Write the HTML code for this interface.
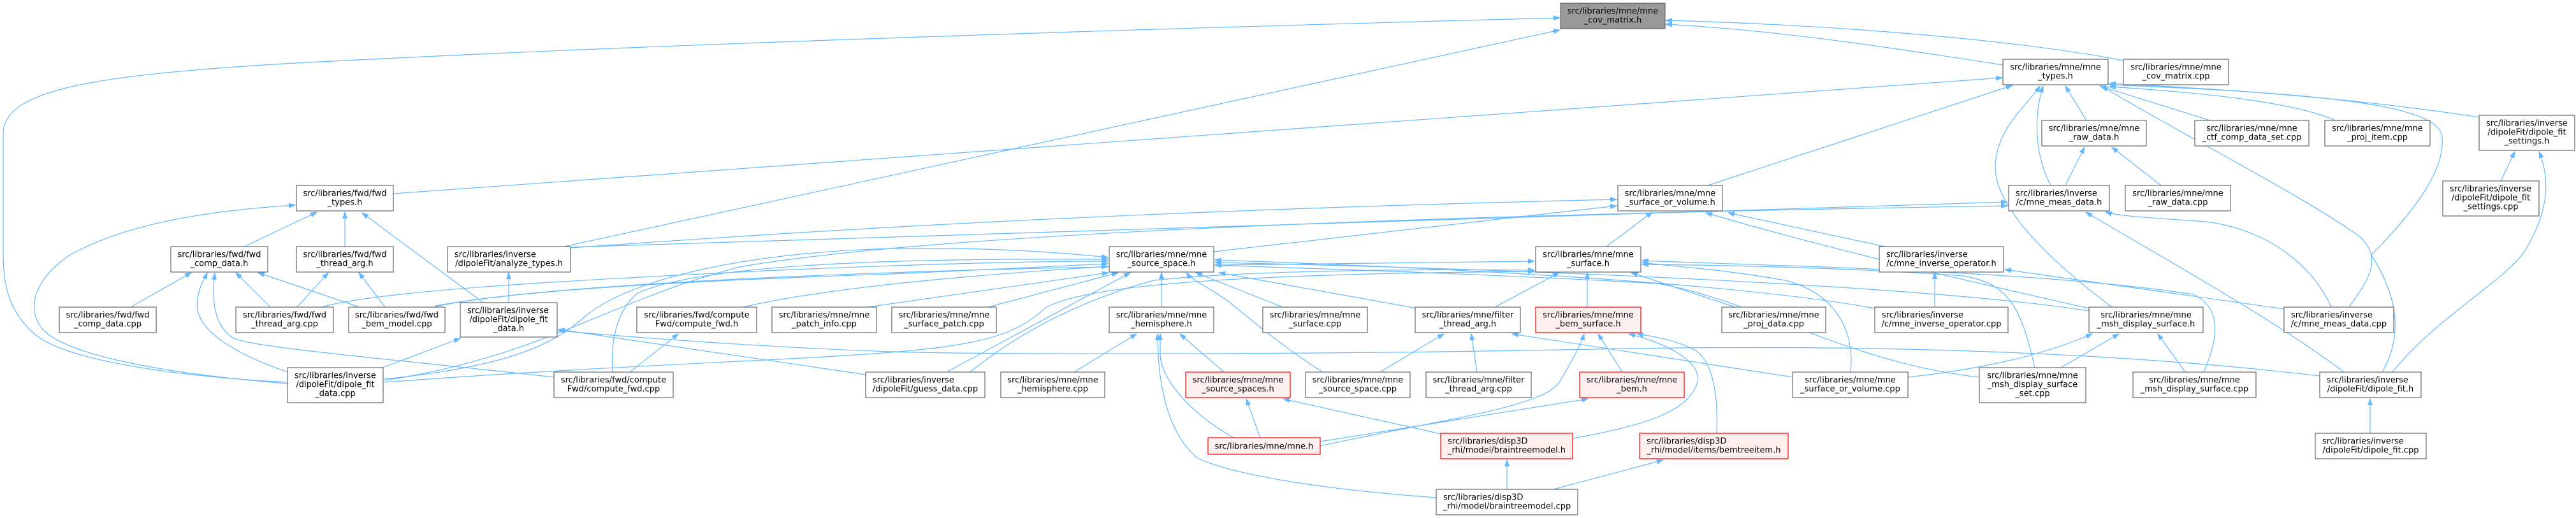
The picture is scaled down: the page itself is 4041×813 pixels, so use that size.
<!DOCTYPE html>
<html>
<head>
<meta charset="utf-8">
<style>
html,body{margin:0;padding:0;background:#fff;}
body{width:4041px;height:813px;overflow:hidden;}
svg{display:block;}
.e{fill:none;stroke:#63b8ff;stroke-width:1.2;marker-end:url(#a);}
.n{fill:#fff;stroke:#666;stroke-width:1.2;}
.r{fill:#fff0f0;stroke:#ff0000;stroke-width:1.2;}
.g{fill:#999;stroke:#666;stroke-width:1.2;}
text{font-family:"DejaVu Sans","Liberation Sans",sans-serif;font-size:13px;fill:#000;}
.c{text-anchor:middle;}
</style>
</head>
<body>
<svg width="4041" height="813" viewBox="0 0 4041 813" xmlns="http://www.w3.org/2000/svg">
<defs>
<marker id="a" markerWidth="11" markerHeight="8" refX="10" refY="4" orient="auto" markerUnits="userSpaceOnUse">
<path d="M0,0.5 L10,4 L0,7.5 z" fill="#63b8ff" stroke="#63b8ff" stroke-width="1"/>
</marker>
</defs>

<!-- edges -->
<path class="e" d="M3142,102 C3000,80 2800,48 2613,38"/>
<path class="e" d="M3331,95 C3150,60 2850,38 2613,32"/>
<path class="e" d="M451,600 C300,592 110,570 55,525 C15,490 5,450 5,400 L5,210 C5,140 150,118 446,100 C1000,70 1800,45 2447,28"/>
<path class="e" d="M885,387 L2447,47"/>
<path class="e" d="M617,304 L3141,122"/>
<path class="e" d="M2679,291 L3157,134"/>
<path class="e" d="M3313,482 C3230,420 3128,330 3130,260 C3132,200 3185,160 3200,135"/>
<path class="e" d="M3217,291 C3195,250 3188,190 3205,135"/>
<path class="e" d="M3273,189 L3240,135"/>
<path class="e" d="M3467,189 L3294,135"/>
<path class="e" d="M3685,482 C3715,440 3740,405 3700,370 C3600,300 3420,210 3297,135"/>
<path class="e" d="M3737,584 C3780,510 3745,440 3720,400 C3790,330 3840,260 3830,210 C3815,160 3600,145 3309,133"/>
<path class="e" d="M3889,184 C3700,155 3500,140 3309,131"/>
<path class="e" d="M3663,189 C3600,160 3450,145 3309,136"/>
<path class="e" d="M3240,291 L3270,231"/>
<path class="e" d="M3390,291 L3313,231"/>
<path class="e" d="M3923,284 L3945,238"/>
<path class="e" d="M3753,584 C3820,500 3930,440 3960,395 C4000,330 4000,280 3983,238"/>
<path class="e" d="M893,388 L3149,317"/>
<path class="e" d="M603,597 C850,560 960,470 1160,419 C1500,360 2400,335 3149,323"/>
<path class="e" d="M895,389 C1300,360 1800,330 2536,313"/>
<path class="e" d="M1904,395 L2536,323"/>
<path class="e" d="M2520,387 L2592,333"/>
<path class="e" d="M2957,387 L2711,334"/>
<path class="e" d="M3277,484 C3150,455 2900,400 2676,334"/>
<path class="e" d="M383,387 L497,333"/>
<path class="e" d="M541,387 L541,333"/>
<path class="e" d="M758,475 L568,334"/>
<path class="e" d="M451,602 C300,590 120,565 70,520 C40,490 50,440 110,400 C200,350 330,330 463,322"/>
<path class="e" d="M205,482 L300,428"/>
<path class="e" d="M424,482 L370,428"/>
<path class="e" d="M564,482 L405,428"/>
<path class="e" d="M455,585 C380,560 300,520 310,470 C312,450 320,440 325,428"/>
<path class="e" d="M869,592 C600,562 390,545 365,530 C335,510 332,470 337,429"/>
<path class="e" d="M466,482 L515,428"/>
<path class="e" d="M604,482 L563,428"/>
<path class="e" d="M798,475 L798,428"/>
<path class="e" d="M600,577 L722,531"/>
<path class="e" d="M1358,588 L876,517"/>
<path class="e" d="M3639,590 C3300,550 2900,540 2500,548 C2000,558 1500,556 1400,552 C1200,545 1000,530 876,519"/>
<path class="e" d="M988,584 L1064,524"/>
<path class="e" d="M504,482 C600,455 900,440 1200,425 C1500,412 1650,410 1738,410"/>
<path class="e" d="M679,482 C800,455 1100,440 1400,430 C1550,422 1650,418 1738,414"/>
<path class="e" d="M1166,482 C1300,450 1550,430 1738,418"/>
<path class="e" d="M603,595 C800,575 870,540 920,495 C1000,430 1200,395 1400,390 C1550,388 1650,395 1738,404"/>
<path class="e" d="M961,584 C958,540 965,490 1000,460 C1100,415 1400,405 1738,407"/>
<path class="e" d="M1361,482 L1739,428"/>
<path class="e" d="M1550,482 L1754,428"/>
<path class="e" d="M1485,584 L1773,428"/>
<path class="e" d="M1822,482 L1822,428"/>
<path class="e" d="M2223,484 L1912,428"/>
<path class="e" d="M2075,584 C2020,550 1960,500 1927,473 C1895,450 1870,440 1861,428"/>
<path class="e" d="M2012,482 L1876,428"/>
<path class="e" d="M2941,484 C2700,440 2200,418 1906,408"/>
<path class="e" d="M3277,488 C3000,445 2300,420 1906,412"/>
<path class="e" d="M3105,592 C2900,570 2750,470 2600,445 C2300,428 2000,420 1906,416"/>
<path class="e" d="M1522,584 C1600,520 1700,470 1810,440 C1950,425 2200,422 2407,424"/>
<path class="e" d="M603,600 C800,585 1000,575 1200,565 C1500,550 1580,540 1640,483 C1700,450 1900,430 2407,426"/>
<path class="e" d="M683,480 C900,440 1500,420 2000,415 C2200,412 2350,410 2407,410"/>
<path class="e" d="M2345,482 L2446,428"/>
<path class="e" d="M2490,482 L2490,428"/>
<path class="e" d="M2722,482 L2559,428"/>
<path class="e" d="M2903,584 C2910,520 2880,460 2800,440 C2700,422 2620,418 2576,412"/>
<path class="e" d="M3457,584 C3485,520 3480,480 3440,462 C3200,425 2800,418 2576,409"/>
<path class="e" d="M3192,577 C3170,480 3150,445 3080,433 C2900,420 2700,416 2576,415"/>
<path class="e" d="M3035,482 L3035,428"/>
<path class="e" d="M3583,485 L3145,423"/>
<path class="e" d="M3233,577 L3324,524"/>
<path class="e" d="M3428,584 L3385,524"/>
<path class="e" d="M2993,592 C3100,580 3200,560 3282,524"/>
<path class="e" d="M2813,592 L2372,524"/>
<path class="e" d="M2165,584 L2265,524"/>
<path class="e" d="M2317,584 L2308,524"/>
<path class="e" d="M2545,584 L2507,524"/>
<path class="e" d="M2071,700 C2250,660 2420,640 2446,600 C2470,560 2480,540 2485,524"/>
<path class="e" d="M2467,688 C2600,665 2650,640 2663,600 C2670,570 2620,540 2555,524"/>
<path class="e" d="M2693,680 C2695,630 2690,570 2660,550 C2620,530 2590,528 2568,524"/>
<path class="e" d="M2071,693 L2491,626"/>
<path class="e" d="M1977,687 L1955,626"/>
<path class="e" d="M2260,681 L2013,626"/>
<path class="e" d="M1685,584 L1783,524"/>
<path class="e" d="M1920,584 L1851,524"/>
<path class="e" d="M1935,687 C1870,650 1825,600 1820,560 L1820,524"/>
<path class="e" d="M2253,781 C2100,770 1950,750 1880,720 C1830,680 1816,600 1816,524"/>
<path class="e" d="M2364,768 L2364,722"/>
<path class="e" d="M2437,768 L2609,722"/>
<path class="e" d="M3718,680 L3718,626"/>
<path class="e" d="M3677,584 C3580,510 3420,420 3272,333"/>
<path class="e" d="M3657,482 C3630,420 3560,360 3460,348 C3380,342 3330,340 3303,333"/>

<!-- nodes -->
<!-- rank 0 -->
<rect class="g" x="2448" y="5" width="164" height="40"/>
<text class="c" x="2530" y="21.5">src/libraries/mne/mne</text><text class="c" x="2530" y="35.5">_cov_matrix.h</text>

<!-- rank 1 -->
<rect class="n" x="3142" y="93" width="165" height="40"/>
<text class="c" x="3224.5" y="109.5">src/libraries/mne/mne</text><text class="c" x="3224.5" y="123.5">_types.h</text>
<rect class="n" x="3331" y="93" width="165" height="40"/>
<text class="c" x="3413.5" y="109.5">src/libraries/mne/mne</text><text class="c" x="3413.5" y="123.5">_cov_matrix.cpp</text>

<!-- rank 2 -->
<rect class="n" x="3203" y="189" width="164" height="40"/>
<text class="c" x="3285" y="205.5">src/libraries/mne/mne</text><text class="c" x="3285" y="219.5">_raw_data.h</text>
<rect class="n" x="3443" y="189" width="179" height="40"/>
<text class="c" x="3532.5" y="205.5">src/libraries/mne/mne</text><text class="c" x="3532.5" y="219.5">_ctf_comp_data_set.cpp</text>
<rect class="n" x="3647" y="189" width="165" height="40"/>
<text class="c" x="3729.5" y="205.5">src/libraries/mne/mne</text><text class="c" x="3729.5" y="219.5">_proj_item.cpp</text>
<rect class="n" x="3889" y="181" width="150" height="55"/>
<text x="3900" y="197.5">src/libraries/inverse</text><text class="c" x="3964" y="211.5">/dipoleFit/dipole_fit</text><text class="c" x="3964" y="225.5">_settings.h</text>

<!-- rank 3 -->
<rect class="n" x="465" y="291" width="152" height="40"/>
<text class="c" x="541" y="307.5">src/libraries/fwd/fwd</text><text class="c" x="541" y="321.5">_types.h</text>
<rect class="n" x="2538" y="291" width="164" height="40"/>
<text class="c" x="2620" y="307.5">src/libraries/mne/mne</text><text class="c" x="2620" y="321.5">_surface_or_volume.h</text>
<rect class="n" x="3151" y="291" width="158" height="40"/>
<text x="3162" y="307.5">src/libraries/inverse</text><text class="c" x="3230" y="321.5">/c/mne_meas_data.h</text>
<rect class="n" x="3334" y="291" width="165" height="40"/>
<text class="c" x="3416.5" y="307.5">src/libraries/mne/mne</text><text class="c" x="3416.5" y="321.5">_raw_data.cpp</text>
<rect class="n" x="3832" y="284" width="151" height="55"/>
<text x="3843" y="300.5">src/libraries/inverse</text><text class="c" x="3907.5" y="314.5">/dipoleFit/dipole_fit</text><text class="c" x="3907.5" y="328.5">_settings.cpp</text>

<!-- rank 4 -->
<rect class="n" x="268" y="387" width="152" height="40"/>
<text class="c" x="344" y="403.5">src/libraries/fwd/fwd</text><text class="c" x="344" y="417.5">_comp_data.h</text>
<rect class="n" x="465" y="387" width="152" height="40"/>
<text class="c" x="541" y="403.5">src/libraries/fwd/fwd</text><text class="c" x="541" y="417.5">_thread_arg.h</text>
<rect class="n" x="702" y="387" width="193" height="40"/>
<text x="713" y="403.5">src/libraries/inverse</text><text class="c" x="798.5" y="417.5">/dipoleFit/analyze_types.h</text>
<rect class="n" x="1740" y="387" width="164" height="40"/>
<text class="c" x="1822" y="403.5">src/libraries/mne/mne</text><text class="c" x="1822" y="417.5">_source_space.h</text>
<rect class="n" x="2409" y="387" width="165" height="40"/>
<text class="c" x="2491.5" y="403.5">src/libraries/mne/mne</text><text class="c" x="2491.5" y="417.5">_surface.h</text>
<rect class="n" x="2948" y="387" width="195" height="40"/>
<text x="2959" y="403.5">src/libraries/inverse</text><text class="c" x="3045.5" y="417.5">/c/mne_inverse_operator.h</text>

<!-- rank 5 -->
<rect class="n" x="93" y="482" width="152" height="40"/>
<text class="c" x="169" y="498.5">src/libraries/fwd/fwd</text><text class="c" x="169" y="512.5">_comp_data.cpp</text>
<rect class="n" x="370" y="482" width="153" height="40"/>
<text class="c" x="446.5" y="498.5">src/libraries/fwd/fwd</text><text class="c" x="446.5" y="512.5">_thread_arg.cpp</text>
<rect class="n" x="547" y="482" width="151" height="40"/>
<text class="c" x="622.5" y="498.5">src/libraries/fwd/fwd</text><text class="c" x="622.5" y="512.5">_bem_model.cpp</text>
<rect class="n" x="722" y="475" width="152" height="54"/>
<text x="733" y="491.5">src/libraries/inverse</text><text class="c" x="798" y="505.5">/dipoleFit/dipole_fit</text><text class="c" x="798" y="519.5">_data.h</text>
<rect class="n" x="999" y="482" width="188" height="40"/>
<text class="c" x="1093" y="498.5">src/libraries/fwd/compute</text><text class="c" x="1093" y="512.5">Fwd/compute_fwd.h</text>
<rect class="n" x="1211" y="482" width="164" height="40"/>
<text class="c" x="1293" y="498.5">src/libraries/mne/mne</text><text class="c" x="1293" y="512.5">_patch_info.cpp</text>
<rect class="n" x="1399" y="482" width="164" height="40"/>
<text class="c" x="1481" y="498.5">src/libraries/mne/mne</text><text class="c" x="1481" y="512.5">_surface_patch.cpp</text>
<rect class="n" x="1740" y="482" width="164" height="40"/>
<text class="c" x="1822" y="498.5">src/libraries/mne/mne</text><text class="c" x="1822" y="512.5">_hemisphere.h</text>
<rect class="n" x="1981" y="482" width="164" height="40"/>
<text class="c" x="2063" y="498.5">src/libraries/mne/mne</text><text class="c" x="2063" y="512.5">_surface.cpp</text>
<rect class="n" x="2220" y="482" width="165" height="40"/>
<text class="c" x="2302.5" y="498.5">src/libraries/mne/filter</text><text class="c" x="2302.5" y="512.5">_thread_arg.h</text>
<rect class="r" x="2409" y="482" width="165" height="40"/>
<text class="c" x="2491.5" y="498.5">src/libraries/mne/mne</text><text class="c" x="2491.5" y="512.5">_bem_surface.h</text>
<rect class="n" x="2701" y="482" width="163" height="40"/>
<text class="c" x="2782.5" y="498.5">src/libraries/mne/mne</text><text class="c" x="2782.5" y="512.5">_proj_data.cpp</text>
<rect class="n" x="2941" y="482" width="209" height="40"/>
<text x="2952" y="498.5">src/libraries/inverse</text><text class="c" x="3045.5" y="512.5">/c/mne_inverse_operator.cpp</text>
<rect class="n" x="3277" y="482" width="179" height="40"/>
<text class="c" x="3366.5" y="498.5">src/libraries/mne/mne</text><text class="c" x="3366.5" y="512.5">_msh_display_surface.h</text>
<rect class="n" x="3583" y="482" width="172" height="40"/>
<text x="3594" y="498.5">src/libraries/inverse</text><text class="c" x="3669" y="512.5">/c/mne_meas_data.cpp</text>

<!-- rank 6 -->
<rect class="n" x="451" y="577" width="150" height="55"/>
<text x="462" y="593.5">src/libraries/inverse</text><text class="c" x="526" y="607.5">/dipoleFit/dipole_fit</text><text class="c" x="526" y="621.5">_data.cpp</text>
<rect class="n" x="869" y="584" width="187" height="40"/>
<text class="c" x="962.5" y="600.5">src/libraries/fwd/compute</text><text class="c" x="962.5" y="614.5">Fwd/compute_fwd.cpp</text>
<rect class="n" x="1358" y="584" width="187" height="40"/>
<text x="1369" y="600.5">src/libraries/inverse</text><text class="c" x="1451.5" y="614.5">/dipoleFit/guess_data.cpp</text>
<rect class="n" x="1570" y="584" width="163" height="40"/>
<text class="c" x="1651.5" y="600.5">src/libraries/mne/mne</text><text class="c" x="1651.5" y="614.5">_hemisphere.cpp</text>
<rect class="r" x="1860" y="584" width="164" height="40"/>
<text class="c" x="1942" y="600.5">src/libraries/mne/mne</text><text class="c" x="1942" y="614.5">_source_spaces.h</text>
<rect class="n" x="2048" y="584" width="164" height="40"/>
<text class="c" x="2130" y="600.5">src/libraries/mne/mne</text><text class="c" x="2130" y="614.5">_source_space.cpp</text>
<rect class="n" x="2237" y="584" width="165" height="40"/>
<text class="c" x="2319.5" y="600.5">src/libraries/mne/filter</text><text class="c" x="2319.5" y="614.5">_thread_arg.cpp</text>
<rect class="r" x="2478" y="584" width="164" height="40"/>
<text class="c" x="2560" y="600.5">src/libraries/mne/mne</text><text class="c" x="2560" y="614.5">_bem.h</text>
<rect class="n" x="2812" y="584" width="181" height="40"/>
<text class="c" x="2902.5" y="600.5">src/libraries/mne/mne</text><text class="c" x="2902.5" y="614.5">_surface_or_volume.cpp</text>
<rect class="n" x="3105" y="577" width="167" height="55"/>
<text class="c" x="3188.5" y="593.5">src/libraries/mne/mne</text><text class="c" x="3188.5" y="607.5">_msh_display_surface</text><text class="c" x="3188.5" y="621.5">_set.cpp</text>
<rect class="n" x="3346" y="584" width="193" height="40"/>
<text class="c" x="3442.5" y="600.5">src/libraries/mne/mne</text><text class="c" x="3442.5" y="614.5">_msh_display_surface.cpp</text>
<rect class="n" x="3639" y="584" width="159" height="40"/>
<text x="3650" y="600.5">src/libraries/inverse</text><text class="c" x="3718.5" y="614.5">/dipoleFit/dipole_fit.h</text>

<!-- rank 7 -->
<rect class="r" x="1895" y="687" width="176" height="26"/>
<text class="c" x="1983" y="704.5">src/libraries/mne/mne.h</text>
<rect class="r" x="2260" y="680" width="207" height="40"/>
<text x="2271" y="696.5">src/libraries/disp3D</text><text class="c" x="2363.5" y="710.5">_rhi/model/braintreemodel.h</text>
<rect class="r" x="2572" y="680" width="233" height="40"/>
<text x="2583" y="696.5">src/libraries/disp3D</text><text class="c" x="2688.5" y="710.5">_rhi/model/items/bemtreeitem.h</text>
<rect class="n" x="3632" y="680" width="174" height="40"/>
<text x="3643" y="696.5">src/libraries/inverse</text><text class="c" x="3719" y="710.5">/dipoleFit/dipole_fit.cpp</text>

<!-- rank 8 -->
<rect class="n" x="2253" y="768" width="222" height="40"/>
<text x="2264" y="784.5">src/libraries/disp3D</text><text class="c" x="2364" y="798.5">_rhi/model/braintreemodel.cpp</text>
</svg>
</body>
</html>
